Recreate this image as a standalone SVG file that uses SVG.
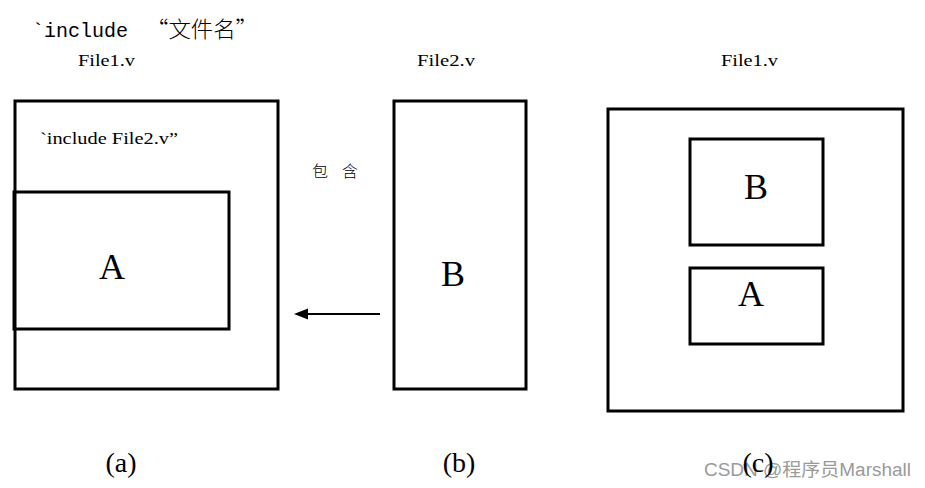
<svg xmlns="http://www.w3.org/2000/svg" width="925" height="488" viewBox="0 0 925 488">
  <defs>
    <style>
      .box { fill: none; stroke: #000; stroke-width: 3; }
      .serif { font-family: "Liberation Serif", "Noto Sans CJK SC", serif; fill: #000; }
      .cjk { font-family: "Noto Sans CJK SC", sans-serif; fill: #000; font-weight: 300; }
      .mono { font-family: "Liberation Mono", "Noto Sans CJK SC", monospace; fill: #000; }
      .cap { font-size: 16px; }
      .big { font-size: 36px; text-anchor: middle; }
      .sub { font-size: 28px; text-anchor: middle; }
      .wm { font-family: "Liberation Sans", "Noto Sans CJK SC", sans-serif; font-size: 18px; fill: #9a9a9a; }
    </style>
  </defs>
  <rect width="925" height="488" fill="#fff"/>

  <!-- heading -->
  <text class="mono" x="32" y="37" font-size="20">`include</text>
  <text class="cjk" x="146" y="37" font-size="22" textLength="112" lengthAdjust="spacingAndGlyphs">“文件名”</text>

  <!-- (a) File1.v with include directive -->
  <g id="file1-a">
    <text class="serif cap" x="78" y="66" textLength="57" lengthAdjust="spacingAndGlyphs">File1.v</text>
    <rect class="box" x="15" y="101" width="263" height="288"/>
    <text class="serif" x="40" y="144" font-size="16" textLength="138" lengthAdjust="spacingAndGlyphs">`include File2.v”</text>
  </g>
  <g id="module-a">
    <rect class="box" x="14" y="192" width="215" height="137"/>
    <text class="serif big" x="112" y="279">A</text>
  </g>

  <!-- (b) File2.v -->
  <g id="file2-b">
    <text class="serif cap" x="417" y="66" textLength="58" lengthAdjust="spacingAndGlyphs">File2.v</text>
    <rect class="box" x="394" y="101" width="132" height="288"/>
    <text class="serif big" x="453" y="286">B</text>
  </g>

  <!-- connector: File2 included into File1 -->
  <g id="connectors">
    <line x1="380" y1="314" x2="306" y2="314" stroke="#000" stroke-width="2"/>
    <polygon points="294,314 308,308.5 308,319.5" fill="#000"/>
    <text class="cjk" x="312" y="177" font-size="16" textLength="46" lengthAdjust="spacing">包 含</text>
  </g>

  <!-- (c) resulting File1.v -->
  <g id="file1-c">
    <text class="serif cap" x="721" y="66" textLength="57" lengthAdjust="spacingAndGlyphs">File1.v</text>
    <rect class="box" x="608" y="109" width="295" height="302"/>
  </g>
  <g id="module-b-c">
    <rect class="box" x="690" y="139" width="133" height="106"/>
    <text class="serif big" x="756" y="199">B</text>
  </g>
  <g id="module-a-c">
    <rect class="box" x="690" y="268" width="133" height="76"/>
    <text class="serif big" x="751" y="306">A</text>
  </g>

  <!-- captions -->
  <text class="serif sub" x="121" y="472">(a)</text>
  <text class="serif sub" x="459" y="472">(b)</text>
  <text class="wm" x="704" y="476" textLength="207" lengthAdjust="spacingAndGlyphs">CSDN @程序员Marshall</text>
  <text class="serif sub" x="758" y="472">(c)</text>
</svg>
